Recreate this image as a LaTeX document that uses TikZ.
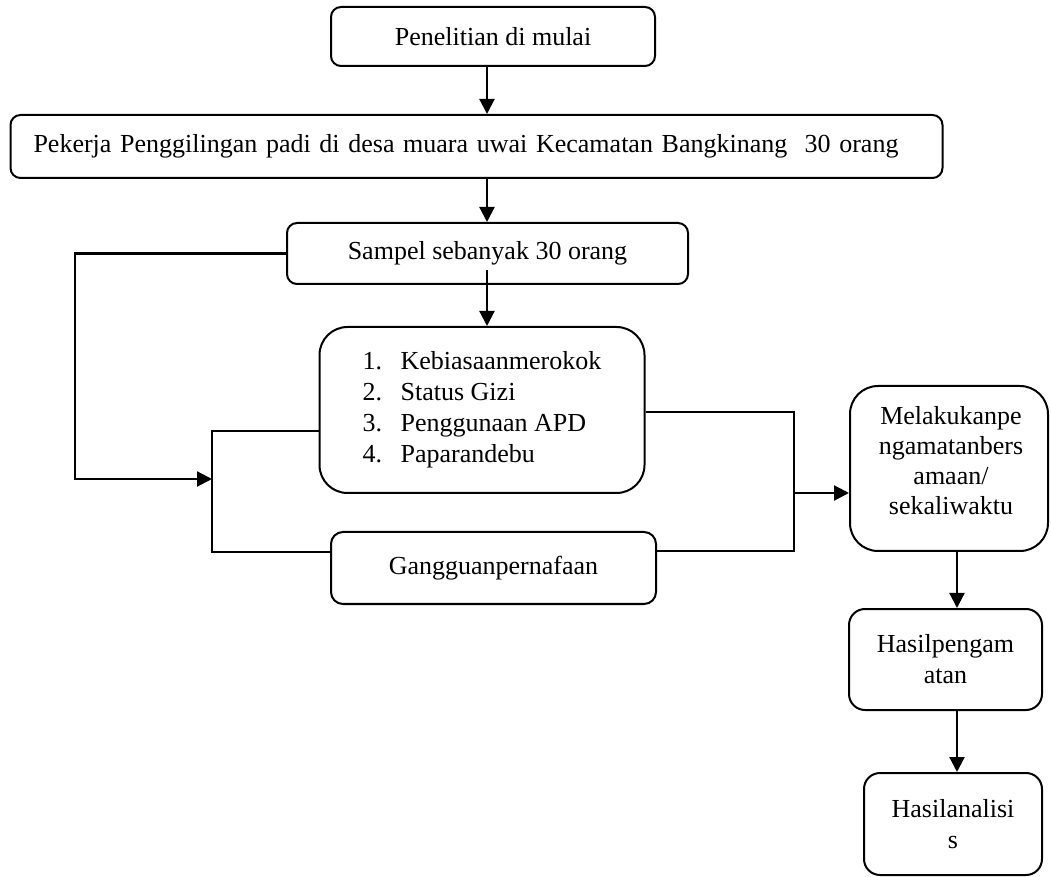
\documentclass[tikz,border=0pt]{standalone}
\usepackage{fontspec}
\setmainfont{Liberation Serif}
\usetikzlibrary{arrows.meta}
\begin{document}
\begin{tikzpicture}[x=0.5pt,y=-0.5pt,
  box/.style={draw, line width=1pt, rounded corners=5pt, inner sep=0pt, align=center,
    font=\fontsize{13}{15.5}\selectfont},
  txt/.style={inner sep=0pt, align=center, font=\fontsize{13}{15}\selectfont},
  arr/.style={line width=1.1pt, -{Triangle[length=7.5pt,width=7.5pt]}},
  ln/.style={line width=1pt}]
\useasboundingbox (0,0) rectangle (1051,877);
\node[box, minimum width=162pt, minimum height=29.5pt] (b1) at (493,36.5) {Penelitian di mulai};
\node[box, text width=443pt, inner xsep=11.5pt, align=left, minimum height=31.5pt] (b2) at (476.5,146.5)
  {Pekerja Penggilingan padi di desa muara uwai Kecamatan Bangkinang\ \ 30 orang};
\node[box, minimum width=200.5pt, minimum height=30.5pt] (b3) at (487.5,253.5) {Sampel sebanyak 30 orang};
\node[box, rounded corners=14pt, minimum width=162.5pt, minimum height=83pt, align=left] (b4) at (482,410)
  {\makebox[19pt][l]{1.}Kebiasaanmerokok\\\makebox[19pt][l]{2.}Status Gizi\\\makebox[19pt][l]{3.}Penggunaan APD\\\makebox[19pt][l]{4.}Paparandebu};
\node[box, rounded corners=6pt, minimum width=162.5pt, minimum height=36pt] (bg) at (493.5,568) {Gangguanpernafaan};
\node[box, rounded corners=14pt, minimum width=99pt, minimum height=82.5pt] (b5) at (949,468.5) {};
\node[txt] (t5) at ([xshift=1pt,yshift=4pt]b5.center) {Melakukanpe\\ngamatanbers\\amaan/\\sekaliwaktu};
\node[box, rounded corners=8pt, minimum width=96.5pt, minimum height=50.5pt] (b6) at (945.5,659.5) {Hasilpengam\\atan};
\node[box, rounded corners=8pt, minimum width=89pt, minimum height=51pt] (b7) at (953,824) {Hasilanalisi\\s};

\coordinate (cx) at (487,0);
\coordinate (cy) at (957,0);
\coordinate (L) at (75,0);
\coordinate (J) at (212,479);
\coordinate (b4l) at (212,431);
\coordinate (bgl) at (212,552);
\coordinate (r1) at (794,412);
\coordinate (r2) at (794,551);
\coordinate (r3) at (794,493);
\coordinate (s3) at ([yshift=7.5pt]b3.south);

\draw[arr] (b1.south -| cx) -- (b2.north -| cx);
\draw[arr] (b2.south -| cx) -- (b3.north -| cx);
\draw[arr] (s3 -| cx) -- (b4.north -| cx);
\draw[arr] (b3.west) -| (J -| L) -- (J);
\draw[ln] (b4.west |- b4l) -- (b4l) -- (bgl) -- (bg.west |- bgl);
\draw[ln] (b4.east |- r1) -- (r1) -- (r2) -- (bg.east |- r2);
\draw[arr] (r3) -- (b5.west |- r3);
\draw[arr] (b5.south -| cy) -- (b6.north -| cy);
\draw[arr] (b6.south -| cy) -- (b7.north -| cy);
\end{tikzpicture}
\end{document}
